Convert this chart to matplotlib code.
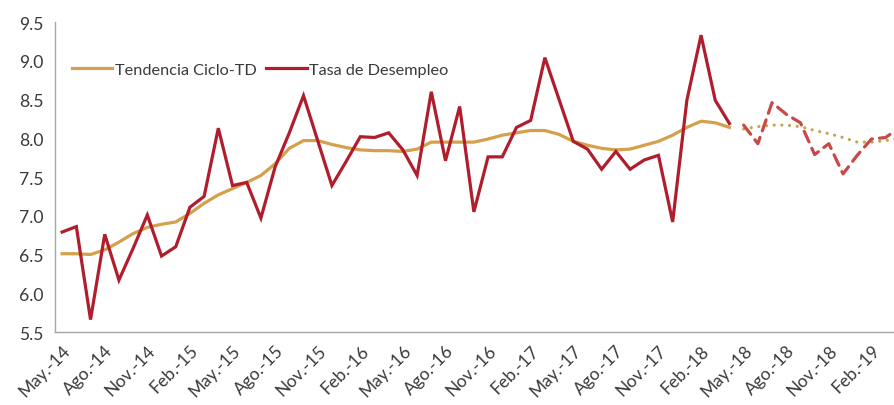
import matplotlib
matplotlib.use("Agg")
import matplotlib.pyplot as plt
import numpy as np

plt.rcParams["font.family"] = ["Lato", "DejaVu Sans"]

# monthly series, May-14 .. Apr-18 (observed) and May-18 .. Apr-19 (forecast)
tasa = [6.79, 6.86, 5.66, 6.76, 6.17, 6.58, 7.01, 6.48, 6.60, 7.11,
        7.25, 8.13, 7.39, 7.43, 6.97, 7.63, 8.07, 8.55, 7.97, 7.39,
        7.70, 8.02, 8.01, 8.07, 7.85, 7.52, 8.60, 7.71, 8.41, 7.05,
        7.76, 7.76, 8.14, 8.23, 9.04, 8.50, 7.96, 7.86, 7.60, 7.83,
        7.60, 7.72, 7.78, 6.92, 8.49, 9.33, 8.49, 8.19]
tendencia = [6.51, 6.51, 6.50, 6.56, 6.66, 6.77, 6.85, 6.89, 6.92, 7.03,
             7.16, 7.27, 7.35, 7.43, 7.52, 7.67, 7.87, 7.97, 7.97, 7.92,
             7.88, 7.85, 7.84, 7.84, 7.83, 7.86, 7.95, 7.95, 7.95, 7.95,
             7.99, 8.04, 8.07, 8.10, 8.10, 8.05, 7.96, 7.91, 7.87, 7.85,
             7.86, 7.91, 7.96, 8.04, 8.14, 8.22, 8.20, 8.14]
tasa_pron = [8.17, 7.93, 8.46, 8.31, 8.20, 7.79, 7.93, 7.54, 7.78, 7.99, 8.01, 8.14]
tend_pron = [8.12, 8.15, 8.17, 8.17, 8.15, 8.10, 8.06, 8.01, 7.95, 7.95, 7.97, 8.01]

tick_labels = ["May.-14", "Ago.-14", "Nov.-14", "Feb.-15", "May.-15", "Ago.-15",
               "Nov.-15", "Feb.-16", "May.-16", "Ago.-16", "Nov.-16", "Feb.-17",
               "May.-17", "Ago.-17", "Nov.-17", "Feb.-18", "May.-18", "Ago.-18",
               "Nov.-18", "Feb.-19"]

RED = "#B01E2D"
GOLD = "#D4A04C"
TXT = "#3A3A3A"

x_obs = np.arange(len(tasa))
x_pron = np.arange(len(tasa), len(tasa) + len(tasa_pron))

fig = plt.figure(figsize=(8.95, 4.06), dpi=100)
ax = fig.add_axes([0.0615, 0.1798, 0.9385, 0.7635])

ax.plot(x_obs, tendencia, color=GOLD, lw=2.3, label="Tendencia Ciclo-TD", solid_joinstyle="round")
ax.plot(x_obs, tasa, color=RED, lw=2.3, label="Tasa de Desempleo", solid_joinstyle="miter")
ax.plot(x_pron, tend_pron, color="#BFA650", lw=2.3, dashes=(0.01, 2.4), dash_capstyle="round")
ax.plot(x_pron, tasa_pron, color="#C94848", lw=2.3, dashes=(3.6, 2.2), dash_capstyle="round")

ax.set_ylim(5.5, 9.5)
ax.set_yticks(np.arange(5.5, 9.51, 0.5))
ax.set_yticklabels([f"{v:.1f}" for v in np.arange(5.5, 9.51, 0.5)])
ax.set_xlim(-0.5, 58.66)
ax.set_xticks(np.arange(0, 3 * len(tick_labels), 3))
ax.set_xticklabels(tick_labels, rotation=45, ha="right", va="top", rotation_mode="anchor")

ax.tick_params(length=0, labelsize=12.6, colors=TXT)
ax.tick_params(axis="y", pad=8)
ax.tick_params(axis="x", pad=7)
for side in ("top", "right"):
    ax.spines[side].set_visible(False)
for side in ("left", "bottom"):
    ax.spines[side].set_color("#A6A6A6")
    ax.spines[side].set_linewidth(1.0)

ax.legend(loc="upper left", bbox_to_anchor=(0.012, 0.89), ncol=2, frameon=False,
          fontsize=11.7, handlelength=2.5, handletextpad=0.15, columnspacing=0.6,
          labelcolor=TXT, borderaxespad=0)

fig.savefig("out.png", dpi=100, facecolor="white")
